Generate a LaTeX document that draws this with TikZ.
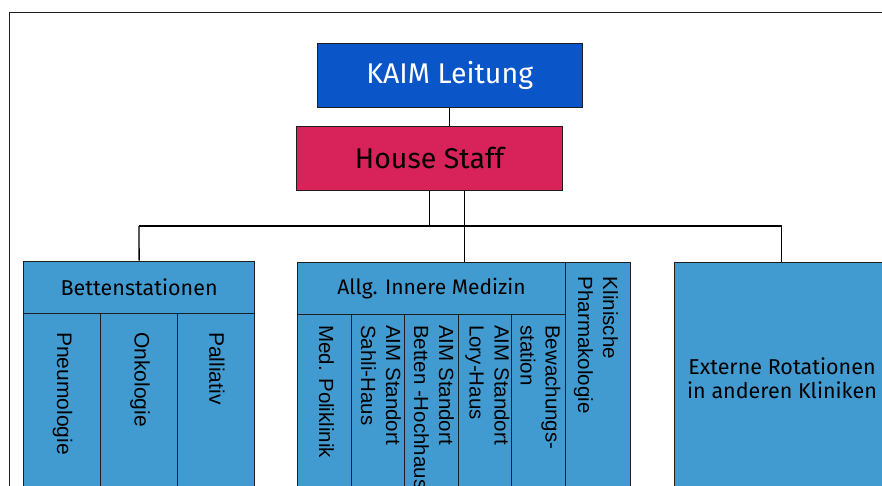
\documentclass[tikz,border=0pt]{standalone}
\usepackage{fontspec}
\setmainfont{Fira Sans}
\newfontfamily\rotf{Liberation Sans}
\definecolor{kaimblue}{RGB}{10,85,200}
\definecolor{staffred}{RGB}{215,35,90}
\definecolor{cellblue}{RGB}{66,155,208}
\definecolor{edge}{RGB}{30,30,30}
\tikzset{
  box/.style={draw=edge, line width=1pt, rectangle, inner sep=0pt, anchor=north west},
  cell/.style={box, fill=cellblue},
  vtext/.style={rotate=-90, anchor=west, inner sep=0pt, align=left, text=black,
    font=\rotf\fontsize{20.5}{25}\selectfont},
  conn/.style={draw=black, line width=1.3pt}
}
\begin{document}
\begin{tikzpicture}[x=1pt,y=-1pt]
\useasboundingbox (0,0) rectangle (882,486);
\clip (0,0) rectangle (882,486);
% outer frame
\draw[line width=1.4pt, draw=edge] (9.5,520) -- (9.5,12.5) -- (920,12.5);

% top boxes
\node[box, fill=kaimblue, minimum width=265pt, minimum height=64pt, text=white,
  font=\fontsize{28.5}{30}\selectfont] (kaim) at (316.7,42.7) {KAIM Leitung};
\node[box, fill=staffred, minimum width=265.4pt, minimum height=64.3pt, text=black,
  font=\fontsize{28.5}{30}\selectfont] (house) at (296.3,125.7) {House Staff};

% Bettenstationen
\node[cell, minimum width=230.7pt, minimum height=52pt, font=\fontsize{21.5}{24}\selectfont] (betten) at (23.3,260.7) {Bettenstationen};
\node[cell, minimum width=77pt, minimum height=200pt] (pneu) at (23.3,312.7) {};
\node[cell, minimum width=76.7pt, minimum height=200pt] (onko) at (100.3,312.7) {};
\node[cell, minimum width=77pt, minimum height=200pt] (pall) at (177,312.7) {};
\node[vtext, font=\rotf\fontsize{21}{25}\selectfont] at (62.5,332) {Pneumologie};
\node[vtext, font=\rotf\fontsize{21}{25}\selectfont] at (140,332) {Onkologie};
\node[vtext, font=\rotf\fontsize{21}{25}\selectfont] at (217,332) {Palliativ};

% Allg. Innere Medizin
\node[cell, minimum width=267.4pt, minimum height=52.6pt, font=\fontsize{21}{24}\selectfont] (allg) at (297.3,261.7) {Allg. Innere Medizin};
\node[cell, minimum width=53.4pt, minimum height=200pt] (poli) at (297.3,314.3) {};
\node[cell, minimum width=53.6pt, minimum height=200pt] (sahli) at (350.7,314.3) {};
\node[cell, minimum width=53.7pt, minimum height=200pt] (bhh) at (404.3,314.3) {};
\node[cell, minimum width=53.3pt, minimum height=200pt] (lory) at (458,314.3) {};
\node[cell, minimum width=53.4pt, minimum height=200pt] (bew) at (511.3,314.3) {};
\node[vtext] at (326.5,325) {Med. Poliklinik};
\node[vtext] at (381,325) {AIM Standort\\Sahli-Haus};
\node[vtext] at (434,325) {AIM Standort\\Betten -Hochhaus};
\node[vtext] at (487.5,325) {AIM Standort\\Lory-Haus};
\node[vtext] at (540.5,325) {Bewachungs-\\station};

% Klinische Pharmakologie
\node[cell, minimum width=65.3pt, minimum height=250pt] (klin) at (564.7,261.7) {};
\node[vtext] at (596,276.7) {Klinische\\Pharmakologie};

% Externe Rotationen
\node[cell, minimum width=215pt, minimum height=250pt] (ext) at (673.7,262.3) {};
\node[inner sep=0pt, align=center, text=black, font=\fontsize{21.5}{24}\selectfont] (extt) at (782,378) {Externe Rotationen\\in anderen Kliniken};

% connectors
\coordinate (busL) at (139,226);
\coordinate (busR) at (781.5,226);
\draw[conn] (kaim.south) -- (kaim.south |- house.north);
\draw[conn] (house.south) -- (house.south |- busL);
\draw[conn] (busL -| betten.north) -- (busR);
\draw[conn] (busL) -- (betten.north);
\draw[conn] (busR) -- (busR |- ext.north);
\path (allg.north -| klin.east) ++(-166.3,0) coordinate (aj);
\draw[conn] (aj |- house.south) -- (aj);
\end{tikzpicture}
\end{document}
